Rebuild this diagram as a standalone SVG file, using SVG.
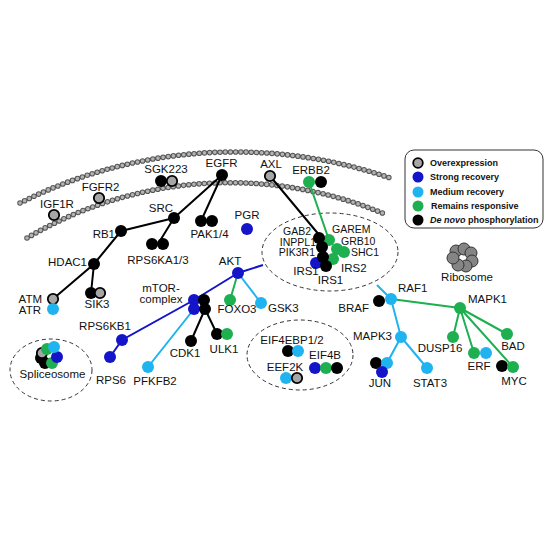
<svg xmlns="http://www.w3.org/2000/svg" width="550" height="550" viewBox="0 0 550 550">
<style>
text{font-family:"Liberation Sans",Arial,sans-serif;font-size:11.5px;fill:#111}
.c{font-size:10.5px}
.mo{fill:none;stroke:#555;stroke-width:5.6;stroke-linecap:round;stroke-dasharray:0 5.2}
.mi{fill:none;stroke:#b4b4b4;stroke-width:3.6;stroke-linecap:round;stroke-dasharray:0 5.2}
.k{fill:#000}.b{fill:#1414c8}.l{fill:#1fb3ef}.g{fill:#1daf50}
.o{fill:#a6a6a6;stroke:#000;stroke-width:1.8}
.r{fill:#858585;stroke:#333;stroke-width:1}
.lk{stroke:#000;stroke-width:2;fill:none}.lb{stroke:#1414c8;stroke-width:2;fill:none}
.ll{stroke:#1fb3ef;stroke-width:2;fill:none}.lg{stroke:#1daf50;stroke-width:2;fill:none}
.ds{fill:none;stroke:#333;stroke-width:1;stroke-dasharray:4 3}
.lt{font-size:9px;font-weight:bold}
.m{text-anchor:middle}.e{text-anchor:end}
</style>
<rect width="550" height="550" fill="#fff"/>
<g id="membrane">
<path class="mo" d="M20 203 A477 477 0 0 1 393 179"/>
<path class="mi" d="M20 203 A477 477 0 0 1 393 179"/>
<path class="mo" d="M27 238 A399 399 0 0 1 387 215"/>
<path class="mi" d="M27 238 A399 399 0 0 1 387 215"/>
</g>
<g id="complexes">
<ellipse class="ds" cx="330" cy="252" rx="68" ry="39"/>
<ellipse class="ds" cx="51" cy="370" rx="41" ry="31"/>
<ellipse class="ds" cx="300" cy="355" rx="53" ry="35"/>
</g>
<g id="connectors">
<path class="lk" d="M222 175L174 218M222 175L201 221M174 218L121 231M174 218L158 244M121 231L94 264L53 299M94 264L91 293M270 176L320 236M205 309L191 341M205 309L217 334"/>
<path class="lg" d="M309 182L329 240M238 273L230 300M391 299L460 308M460 308L453 337M460 308L474 353M460 308L513 367M460 308L507 334"/>
<path class="lb" d="M238 273L263 265M238 273L194 300L122 340L110 357"/>
<path class="ll" d="M238 273L261 303M194 309L148 367M391 299L377 285M391 299L401 337L387 363M401 337L427 368"/>
</g>
<g id="IGF1R"><circle class="o" cx="54" cy="215" r="5.2"/><text class="m" x="57" y="208">IGF1R</text></g>
<g id="FGFR2"><circle class="o" cx="99" cy="198" r="5.2"/><text class="m" x="100.5" y="190.5">FGFR2</text></g>
<g id="SGK223"><circle class="k" cx="161" cy="181" r="6"/><circle class="o" cx="172" cy="181" r="5.2"/><text class="m" x="166" y="173">SGK223</text></g>
<g id="EGFR"><circle class="k" cx="222" cy="175" r="6"/><text class="m" x="221.5" y="167">EGFR</text></g>
<g id="AXL"><circle class="o" cx="270" cy="176" r="5.2"/><text class="m" x="271" y="168">AXL</text></g>
<g id="ERBB2"><circle class="g" cx="309" cy="182" r="6"/><circle class="k" cx="321" cy="182" r="6"/><text class="m" x="311" y="174">ERBB2</text></g>
<g id="SRC"><circle class="k" cx="174" cy="218" r="6"/><text class="m" x="161" y="212">SRC</text></g>
<g id="PAK14"><circle class="k" cx="201" cy="221" r="6"/><circle class="k" cx="212" cy="221" r="6"/><text class="m" x="209.5" y="238">PAK1/4</text></g>
<g id="PGR"><circle class="b" cx="247" cy="229" r="6"/><text class="m" x="247" y="219">PGR</text></g>
<g id="RB1"><circle class="k" cx="121" cy="231" r="6"/><text class="e" x="115" y="238">RB1</text></g>
<g id="RPS6KA13"><circle class="k" cx="152" cy="244" r="6"/><circle class="k" cx="163" cy="244" r="6"/><text class="m" x="158" y="264">RPS6KA1/3</text></g>
<g id="HDAC1"><circle class="k" cx="94" cy="264" r="6"/><text class="e" x="87" y="266">HDAC1</text></g>
<g id="ATM"><circle class="o" cx="53" cy="299" r="5.2"/><text class="e" x="42" y="303">ATM</text></g>
<g id="ATR"><circle class="l" cx="53" cy="309" r="6"/><text class="e" x="41" y="314">ATR</text></g>
<g id="SIK3"><circle class="k" cx="91" cy="293" r="6"/><circle class="o" cx="100" cy="293" r="5.2"/><text class="m" x="97" y="308">SIK3</text></g>
<g id="AKT"><circle class="b" cx="238" cy="273" r="6"/><text class="m" x="230" y="265">AKT</text></g>
<g id="mTOR"><circle class="b" cx="194" cy="300" r="6"/><circle class="b" cx="194" cy="309" r="6"/><circle class="k" cx="204" cy="300" r="6"/><circle class="k" cx="205" cy="309" r="6"/><text class="m" x="161" y="292">mTOR-</text><text class="m" x="161" y="303">complex</text></g>
<g id="FOXO3"><circle class="g" cx="230" cy="300" r="6"/><text class="m" x="237" y="313">FOXO3</text></g>
<g id="GSK3"><circle class="l" cx="261" cy="303" r="6"/><text x="268" y="312">GSK3</text></g>
<g id="RPS6KB1"><circle class="b" cx="122" cy="340" r="6"/><text class="m" x="105" y="330">RPS6KB1</text></g>
<g id="RPS6"><circle class="b" cx="110" cy="357" r="6"/><text class="m" x="111" y="384">RPS6</text></g>
<g id="PFKFB2"><circle class="l" cx="148" cy="367" r="6"/><text class="m" x="155" y="385">PFKFB2</text></g>
<g id="CDK1"><circle class="k" cx="191" cy="341" r="6"/><text class="m" x="185" y="357">CDK1</text></g>
<g id="ULK1"><circle class="k" cx="217" cy="334" r="6"/><circle class="g" cx="227" cy="334" r="6"/><text class="m" x="224" y="353">ULK1</text></g>
<g id="Spliceosome"><circle class="k" cx="41" cy="358" r="6"/><circle class="k" cx="45" cy="363" r="6"/><circle class="o" cx="42" cy="353" r="5.2"/><circle class="g" cx="47" cy="349" r="6"/><circle class="g" cx="52" cy="363" r="6"/><circle class="b" cx="57" cy="357" r="6"/><circle class="l" cx="54" cy="347" r="6"/><text class="m" x="52.5" y="378">Spliceosome</text></g>
<g id="RTKcomplex">
<circle class="g" cx="329" cy="240" r="6"/><circle class="g" cx="337" cy="249" r="6"/><circle class="g" cx="344" cy="252" r="6"/><circle class="g" cx="333" cy="259" r="6"/>
<circle class="b" cx="316" cy="263" r="6"/>
<circle class="k" cx="319" cy="238" r="6"/><circle class="k" cx="322" cy="247" r="6"/><circle class="k" cx="323" cy="257" r="6"/><circle class="k" cx="326" cy="266" r="6"/>
<text class="e c" x="311" y="235">GAB2</text><text class="e c" x="316" y="245.5">INPPL1</text><text class="e c" x="315" y="256">PIK3R1</text>
<text class="m" x="306" y="275">IRS1</text><text class="m" x="330.5" y="284">IRS1</text>
<text class="c" x="332" y="233">GAREM</text><text class="c" x="341" y="244.5">GRB10</text><text class="c" x="351" y="256">SHC1</text><text x="341" y="272">IRS2</text>
</g>
<g id="EIF4EBP12"><circle class="k" cx="288" cy="351" r="6"/><circle class="l" cx="298" cy="351" r="6"/><text class="m" x="292" y="344">EIF4EBP1/2</text></g>
<g id="EIF4B"><circle class="b" cx="315" cy="368" r="6"/><circle class="g" cx="326" cy="368" r="6"/><circle class="k" cx="337" cy="368" r="6"/><text class="m" x="325" y="359">EIF4B</text></g>
<g id="EEF2K"><circle class="l" cx="286" cy="378" r="6"/><circle class="o" cx="297" cy="378" r="5.2"/><text class="m" x="285" y="371">EEF2K</text></g>
<g id="Ribosome">
<circle class="r" cx="456" cy="251" r="6"/><circle class="r" cx="464" cy="249" r="6"/><circle class="r" cx="471" cy="253" r="6"/><circle class="r" cx="472" cy="261" r="6"/><circle class="r" cx="466" cy="266" r="6"/><circle class="r" cx="458" cy="265" r="6"/><circle class="r" cx="453" cy="258" r="6"/>
<text class="m" x="467" y="281">Ribosome</text></g>
<g id="BRAF"><circle class="k" cx="379" cy="301" r="6"/><text class="e" x="369" y="312">BRAF</text></g>
<g id="RAF1"><circle class="l" cx="391" cy="299" r="6"/><text x="398" y="292">RAF1</text></g>
<g id="MAPK1"><circle class="g" cx="460" cy="308" r="6"/><text x="468" y="303">MAPK1</text></g>
<g id="MAPK3"><circle class="l" cx="401" cy="337" r="6"/><text class="e" x="392" y="340">MAPK3</text></g>
<g id="DUSP16"><circle class="g" cx="453" cy="337" r="6"/><text class="m" x="440" y="352">DUSP16</text></g>
<g id="BAD"><circle class="g" cx="507" cy="334" r="6"/><text class="m" x="513" y="350">BAD</text></g>
<g id="ERF"><circle class="g" cx="474" cy="353" r="6"/><circle class="l" cx="486" cy="353" r="6"/><text class="m" x="479" y="370">ERF</text></g>
<g id="MYC"><circle class="k" cx="502" cy="366" r="6"/><circle class="g" cx="513" cy="367" r="6"/><text class="m" x="514" y="385">MYC</text></g>
<g id="JUN"><circle class="k" cx="376" cy="363" r="6"/><circle class="l" cx="387" cy="363" r="6"/><circle class="b" cx="382" cy="372" r="6"/><text class="m" x="380" y="387">JUN</text></g>
<g id="STAT3"><circle class="l" cx="427" cy="368" r="6"/><text class="m" x="430" y="387">STAT3</text></g>
<g id="legend">
<rect x="405" y="150" width="138" height="78" rx="9" fill="#fff" stroke="#333" stroke-width="1"/>
<circle class="o" cx="418" cy="163" r="4.8"/><text class="lt" x="430" y="166">Overexpression</text>
<circle class="b" cx="418" cy="177" r="5.5"/><text class="lt" x="430" y="180">Strong recovery</text>
<circle class="l" cx="418" cy="192" r="5.5"/><text class="lt" x="430" y="195">Medium recovery</text>
<circle class="g" cx="418" cy="206" r="5.5"/><text class="lt" x="431" y="209">Remains responsive</text>
<circle class="k" cx="418" cy="220" r="5.5"/><text class="lt" x="430" y="223"><tspan font-style="italic">De novo</tspan> phosphorylation</text>
</g>
</svg>
